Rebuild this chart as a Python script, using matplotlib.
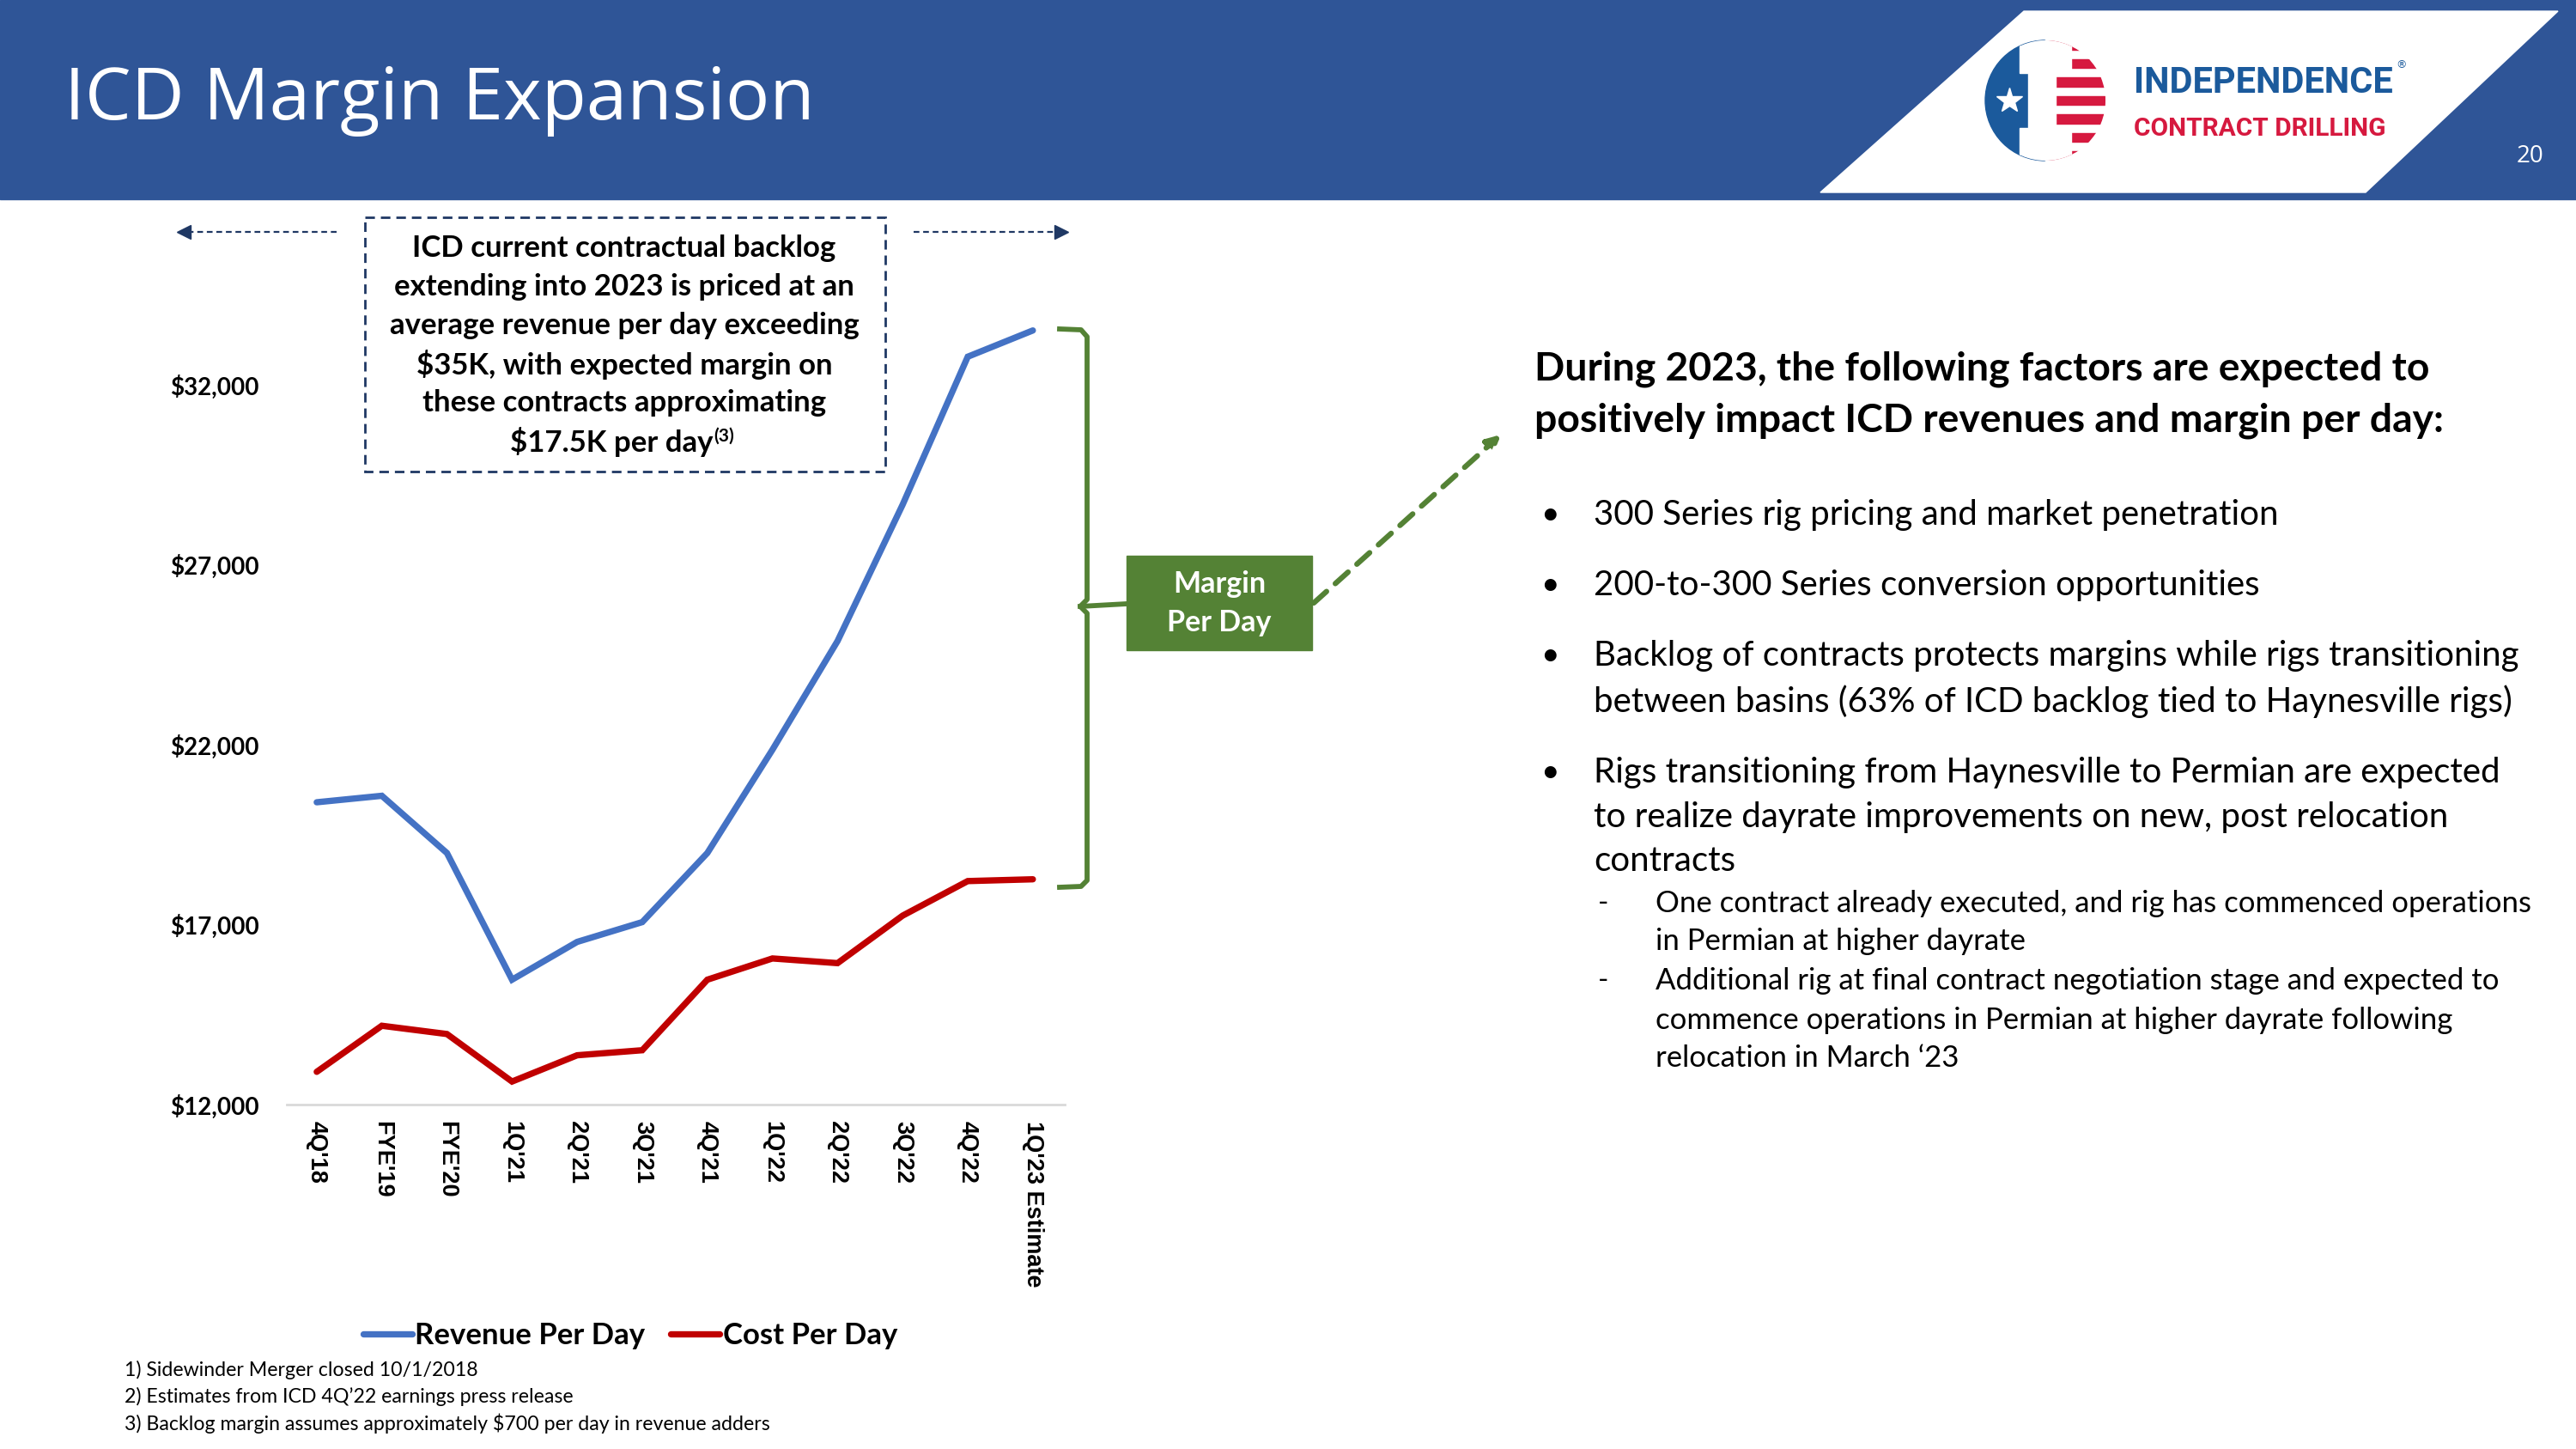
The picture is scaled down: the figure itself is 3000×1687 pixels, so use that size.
import matplotlib
matplotlib.use("Agg")
import matplotlib.pyplot as plt
from matplotlib import font_manager
from matplotlib.patches import Rectangle, Polygon, Circle, Wedge

# chart data
periods = ["4Q'18", "FYE'19", "FYE'20", "1Q'21", "2Q'21", "3Q'21", "4Q'21",
           "1Q'22", "2Q'22", "3Q'22", "4Q'22", "1Q'23 Estimate"]
revenue_per_day = [20400, 20580, 18990, 15470, 16520, 17070, 18990,
                   21860, 24880, 28670, 32780, 33510]
cost_per_day = [12910, 14190, 13960, 12640, 13370, 13510, 15470,
                16060, 15930, 17250, 18210, 18260]
y_ticks = [12000, 17000, 22000, 27000, 32000]

backlog_lines = ["ICD current contractual backlog",
                 "extending into 2023 is priced at an",
                 "average revenue per day exceeding",
                 "$35K, with expected margin on",
                 "these contracts approximating",
                 "$17.5K per day"]
heading_lines = ["During 2023, the following factors are expected to",
                 "positively impact ICD revenues and margin per day:"]
bullets = [["300 Series rig pricing and market penetration"],
           ["200-to-300 Series conversion opportunities"],
           ["Backlog of contracts protects margins while rigs transitioning",
            "between basins (63% of ICD backlog tied to Haynesville rigs)"],
           ["Rigs transitioning from Haynesville to Permian are expected",
            "to realize dayrate improvements on new, post relocation",
            "contracts"]]
sub_bullets = [["One contract already executed, and rig has commenced operations",
                "in Permian at higher dayrate"],
               ["Additional rig at final contract negotiation stage and expected to",
                "commence operations in Permian at higher dayrate following",
                "relocation in March \u201823"]]
footnotes = ["1) Sidewinder Merger closed 10/1/2018",
             "2) Estimates from ICD 4Q\u201922 earnings press release",
             "3) Backlog margin assumes approximately $700 per day in revenue adders"]

plt.rcParams['text.parse_math'] = False

BLUE_HDR = "#2F5597"
NAVY = "#1F3864"
GREEN = "#548235"
REV = "#4472C4"
COST = "#C00000"
BODY = "Lato"

names = {f.name for f in font_manager.fontManager.ttflist}
narrow = "Liberation Sans Narrow" if "Liberation Sans Narrow" in names else "Roboto"

W, H = 3000, 1687
fig = plt.figure(figsize=(W / 100, H / 100), dpi=100)

# overlay in pixel coordinates
ov = fig.add_axes([0, 0, 1, 1], zorder=2)
ov.set_xlim(0, W)
ov.set_ylim(H, 0)
ov.axis("off")
ov.patch.set_alpha(0)

# header band and title
ov.add_patch(Rectangle((0, 0), W, 232, color=BLUE_HDR, zorder=0))
ov.text(75, 117, "ICD Margin Expansion", color="white", fontsize=61.5,
        family="Open Sans", va="center", ha="left")
ov.add_patch(Polygon([(2357, 13), (2979, 13), (2755, 224), (2120, 224)],
                     closed=True, color="white", zorder=1))
ov.text(2946, 182, "20", color="white", fontsize=20, family="Open Sans",
        ha="center", va="center")

# logo
cx, cy, r = 2382, 117, 70
circ = Circle((cx, cy), r, transform=ov.transData)
ov.add_patch(Wedge((cx, cy), r, 90, 270, color="#1B5A9C", zorder=2))
ov.add_patch(Wedge((cx, cy), r, -90, 90, color="white", zorder=2))
n_str = 13
for i in range(0, n_str, 2):
    s = Rectangle((cx, cy - r + i * 2 * r / n_str), r, 2 * r / n_str,
                  color="#D6193F", zorder=3)
    s.set_clip_path(circ)
    ov.add_patch(s)
i_shape = Polygon([(cx - 30, cy - r), (cx + 30, cy - r), (cx + 30, cy - r + 38),
                   (cx + 12, cy - r + 38), (cx + 12, cy + r - 38), (cx + 30, cy + r - 38),
                   (cx + 30, cy + r), (cx - 30, cy + r), (cx - 30, cy + r - 38),
                   (cx - 20, cy + r - 38), (cx - 20, cy - r + 38), (cx - 30, cy - r + 38)],
                  closed=True, color="white", zorder=4)
i_shape.set_clip_path(circ)
ov.add_patch(i_shape)
ov.plot(cx - 42, cy, marker="*", ms=22, color="white", zorder=5)
ov.text(2485, 96, "INDEPENDENCE", color="#1B5A9C", fontsize=30, weight="bold",
        family=narrow, ha="left", va="center")
ov.text(2790, 76, "\u00ae", color="#1B5A9C", fontsize=9, ha="left", va="center")
ov.text(2485, 150, "CONTRACT DRILLING", color="#D6193F", fontsize=21.5, weight="bold",
        family=narrow, ha="left", va="center")

# line chart
ax_l, ax_r, ax_b = 334, 1240, 1286
px_per_unit = 209.5 / 5000
y_top = 37000
ax_t = ax_b - (y_top - 12000) * px_per_unit
ax = fig.add_axes([ax_l / W, 1 - ax_b / H, (ax_r - ax_l) / W, (ax_b - ax_t) / H], zorder=1)
x = range(len(periods))
ax.plot(x, revenue_per_day, color=REV, lw=5.3, solid_capstyle="round",
        solid_joinstyle="miter", label="Revenue Per Day")
ax.plot(x, cost_per_day, color=COST, lw=5.3, solid_capstyle="round",
        solid_joinstyle="miter", label="Cost Per Day")
ax.set_xlim(-0.46, 11.49)
ax.set_ylim(12000, y_top)
ax.set_yticks(y_ticks)
ax.set_yticklabels([f"${v:,}" for v in y_ticks], fontsize=20, weight="bold", family=BODY)
ax.set_xticks(list(x))
ax.set_xticklabels(periods, rotation=-90, fontsize=19.5, weight="bold",
                   family="Liberation Sans", va="top", ha="center")
ax.tick_params(axis="y", length=0, pad=23)
ax.tick_params(axis="x", length=0, pad=14)
for side in ["top", "right", "left"]:
    ax.spines[side].set_visible(False)
ax.spines["bottom"].set_color("#D9D9D9")
ax.spines["bottom"].set_linewidth(2)
ax.patch.set_alpha(0)
ax.legend(loc="center", bbox_to_anchor=(734 / W, 1 - 1555 / H), bbox_transform=fig.transFigure,
          ncol=2, frameon=False, prop={"family": BODY, "weight": "bold", "size": 25},
          handlelength=1.65, handletextpad=0.1, columnspacing=0.85)

# backlog callout box
ov.add_patch(Rectangle((425, 253), 606, 296, fill=False, edgecolor=NAVY, lw=2,
                       linestyle=(0, (4, 2.5)), zorder=3))
line_y = [289, 334, 379, 424, 469, 514]
for txt, yy in zip(backlog_lines, line_y):
    xc = 727 if txt != backlog_lines[-1] else 712
    t = ov.text(xc, yy, txt, fontsize=25, weight="bold", family=BODY,
                ha="center", va="center")
ov.annotate("(3)", xy=(1, 1), xycoords=t, xytext=(1, -1), textcoords="offset points",
            fontsize=15, weight="bold", family=BODY, ha="left", va="top")

# dotted arrows either side of the box
ov.plot([392, 222], [270, 270], color=NAVY, lw=1.6, linestyle=(0, (3, 2)))
ov.plot(214, 270, marker="<", ms=11, color=NAVY, mec=NAVY)
ov.plot([1064, 1230], [270, 270], color=NAVY, lw=1.6, linestyle=(0, (3, 2)))
ov.plot(1236, 270, marker=">", ms=11, color=NAVY, mec=NAVY)

# green bracket + margin box
brace_x = [1234, 1259, 1266, 1266, 1258, 1266, 1266, 1259, 1234]
brace_y = [383, 384, 392, 698, 706, 714, 1025, 1032, 1033]
ov.plot(brace_x, brace_y, color=GREEN, lw=4.2, solid_joinstyle="round")
ov.plot([1258, 1312], [706, 703], color=GREEN, lw=4.2)
ov.add_patch(Rectangle((1312, 647), 216, 110, color=GREEN, zorder=3))
ov.text(1420, 680, "Margin", color="white", fontsize=24.5, weight="bold", family=BODY,
        ha="center", va="center", zorder=4)
ov.text(1420, 725, "Per Day", color="white", fontsize=24.5, weight="bold", family=BODY,
        ha="center", va="center", zorder=4)
ov.annotate("", xy=(1748, 506), xytext=(1530, 702),
            arrowprops=dict(arrowstyle="-|>,head_length=0.9,head_width=0.45", lw=4.5,
                            linestyle=(0, (3.2, 2.2)), color=GREEN, shrinkA=0, shrinkB=0))

# right side text
for txt, yy in zip(heading_lines, [430, 490]):
    ov.text(1787, yy, txt, fontsize=33.3, weight="bold", family=BODY, ha="left", va="center")
bullet_y = [[599], [681], [763, 817], [899, 951, 1002]]
for lines, ys in zip(bullets, bullet_y):
    ov.text(1794, ys[0], "\u2022", fontsize=27, family=BODY, ha="left", va="center")
    for txt, yy in zip(lines, ys):
        ov.text(1856, yy, txt, fontsize=29, family=BODY, ha="left", va="center")
sub_y = [[1052, 1096], [1142, 1188, 1232]]
for lines, ys in zip(sub_bullets, sub_y):
    ov.text(1861, ys[0], "-", fontsize=24, family=BODY, ha="left", va="center")
    for txt, yy in zip(lines, ys):
        ov.text(1928, yy, txt, fontsize=25, family=BODY, ha="left", va="center")

# footnotes
for txt, yy in zip(footnotes, [1595, 1626, 1657]):
    ov.text(145, yy, txt, fontsize=16.7, family=BODY, ha="left", va="center")

fig.savefig("out.png", dpi=100, facecolor="white")
